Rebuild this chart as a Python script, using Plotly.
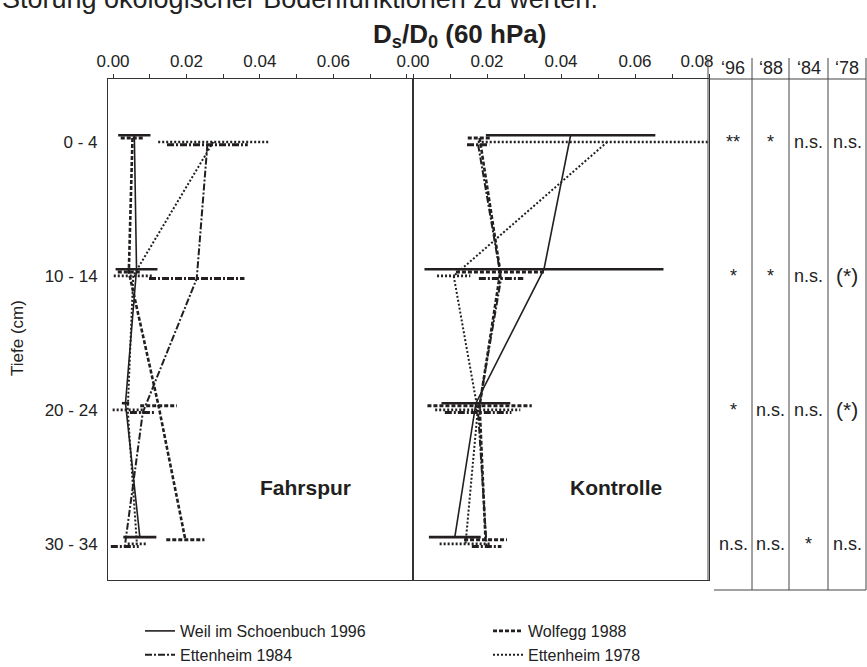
import plotly.graph_objects as go

# ---------------- data ----------------
depths = ["0 - 4", "10 - 14", "20 - 24", "30 - 34"]
series_names = ["Weil im Schoenbuch 1996", "Wolfegg 1988", "Ettenheim 1984", "Ettenheim 1978"]

# Fahrspur (left panel)  Ds/D0 means and error half-widths
fahr_1996 = [0.0058, 0.0064, 0.0034, 0.0073]
fahr_1996_err = [0.0044, 0.0057, 0.0010, 0.0045]
fahr_1988 = [0.0053, 0.0043, 0.0124, 0.0197]
fahr_1988_err = [0.0032, 0.0030, 0.0050, 0.0052]
fahr_1984 = [0.0257, 0.0228, 0.0081, 0.0032]
fahr_1984_err = [0.0110, 0.0130, 0.0035, 0.0038]
fahr_1978 = [0.0273, 0.0055, 0.0040, 0.0065]
fahr_1978_err = [0.0150, 0.0053, 0.0041, 0.0025]

# Kontrolle (right panel)
kon_1996 = [0.0426, 0.0354, 0.0170, 0.0113]
kon_1996_err = [0.0229, 0.0323, 0.0093, 0.0070]
kon_1988 = [0.0180, 0.0236, 0.0180, 0.0196]
kon_1988_err = [0.0032, 0.0120, 0.0141, 0.0058]
kon_1984 = [0.0176, 0.0238, 0.0176, 0.0199]
kon_1984_err = [0.0030, 0.0060, 0.0090, 0.0040]
kon_1978 = [0.0525, 0.0110, 0.0175, 0.0142]
kon_1978_err = [0.0350, 0.0045, 0.0115, 0.0070]

# significance table
sig_columns = ["\u201896", "\u201888", "\u201884", "\u201878"]
sig_1996 = ["**", "*", "*", "n.s."]
sig_1988 = ["*", "*", "n.s.", "n.s."]
sig_1984 = ["n.s.", "n.s.", "n.s.", "*"]
sig_1978 = ["n.s.", "(*)", "(*)", "n.s."]

x_tickvals = [0.00, 0.01, 0.02, 0.03, 0.04, 0.05, 0.06, 0.07, 0.08]
left_ticktext = ["0.00", "", "0.02", "", "0.04", "", "0.06", "", ""]
right_ticktext = ["0.00", "", "0.02", "", "0.04", "", "0.06", "", ""]
last_tickval = [0.08]
last_ticktext = ["0.08"]

# ---------------- styles ----------------
W, H = 867, 667
INK = "#231f20"
TXT = "#222"
FONT = "Liberation Sans, Arial, sans-serif"

def px(x):
    return x / W

def py(y):
    return 1 - y / H

styles = {
    "Weil im Schoenbuch 1996": dict(dash="solid", width=1.6, ewidth=2.6, off=-0.05, legend="legend"),
    "Wolfegg 1988": dict(dash="4px,2px", width=2.6, ewidth=3.0, off=-0.03, legend="legend2"),
    "Ettenheim 1984": dict(dash="7px,2px,2px,2px", width=2.0, ewidth=3.0, off=0.02, legend="legend"),
    "Ettenheim 1978": dict(dash="2px,2px", width=2.0, ewidth=2.6, off=0.0, legend="legend2"),
}

panels = [
    ("x", "y", [fahr_1996, fahr_1988, fahr_1984, fahr_1978],
     [fahr_1996_err, fahr_1988_err, fahr_1984_err, fahr_1978_err]),
    ("x2", "y2", [kon_1996, kon_1988, kon_1984, kon_1978],
     [kon_1996_err, kon_1988_err, kon_1984_err, kon_1978_err]),
]

fig = go.Figure()
for pi, (xa, ya, vals, errs) in enumerate(panels):
    for name, v, e in zip(series_names, vals, errs):
        st = styles[name]
        ys = [i + st["off"] for i in range(len(depths))]
        fig.add_trace(go.Scatter(
            x=v, y=ys, mode="lines", name=name, xaxis=xa, yaxis=ya,
            line=dict(color=INK, width=st["width"], dash=st["dash"]),
            showlegend=(pi == 0), legend=st["legend"], hoverinfo="skip"))
        ex, ey = [], []
        for vi, ei, yi in zip(v, e, ys):
            ex += [vi - ei, vi + ei, None]
            ey += [yi, yi, None]
        fig.add_trace(go.Scatter(
            x=ex, y=ey, mode="lines", xaxis=xa, yaxis=ya, showlegend=False,
            line=dict(color=INK, width=st["ewidth"], dash=st["dash"]), hoverinfo="skip"))

# empty trace that only makes the label-only overlay axis (x3) exist
fig.add_trace(go.Scatter(x=last_tickval, y=[None], mode="lines", xaxis="x3", yaxis="y2",
                         showlegend=False, hoverinfo="skip"))

y_dom = [py(580), py(79)]
y_rng = [3.27, -0.47]
axis_common = dict(showline=True, linecolor="#333", linewidth=1, mirror=True,
                   showgrid=False, zeroline=False, automargin=False)
tickf = dict(size=17, color=TXT, family=FONT)
legf = dict(size=16, color=TXT, family=FONT)

fig.update_layout(
    template="none",
    width=W, height=H,
    margin=dict(l=0, r=0, t=0, b=0, pad=0, autoexpand=False),
    paper_bgcolor="white", plot_bgcolor="white",
    font=dict(family=FONT, color=INK, size=17),
    xaxis=dict(domain=[px(108), px(413)], range=[-0.00137, 0.0817], side="top", anchor="y",
               tickvals=x_tickvals, ticktext=left_ticktext, ticks="outside", ticklen=4,
               tickcolor="#333", tickfont=tickf, **axis_common),
    yaxis=dict(domain=y_dom, range=y_rng, anchor="x", tickvals=[0, 1, 2, 3], ticktext=depths,
               ticks="", ticklabelstandoff=6, tickfont=tickf, **axis_common),
    xaxis2=dict(domain=[px(413), px(709)], range=[0, 0.08], side="top", anchor="y2",
                tickvals=x_tickvals, ticktext=right_ticktext, ticks="outside", ticklen=4,
                tickcolor="#333", tickfont=tickf, **axis_common),
    # label-only axis for the last tick, nudged left to clear the table as in the original
    xaxis3=dict(overlaying="x2", side="top", anchor="y2", range=[0, 0.08],
                tickvals=last_tickval, ticktext=last_ticktext, ticks="outside", ticklen=4,
                tickcolor="rgba(0,0,0,0)", ticklabelshift=-12,
                tickfont=tickf, showline=False, showgrid=False, zeroline=False, automargin=False),
    yaxis2=dict(domain=y_dom, range=y_rng, anchor="x2", showticklabels=False, ticks="",
                **axis_common),
    legend=dict(x=px(140), y=py(614), xanchor="left", yanchor="top", orientation="v",
                font=legf, bgcolor="rgba(0,0,0,0)", tracegroupgap=0, borderwidth=0),
    legend2=dict(x=px(488), y=py(614), xanchor="left", yanchor="top", orientation="v",
                 font=legf, bgcolor="rgba(0,0,0,0)", tracegroupgap=0, borderwidth=0),
)

def note(text, x, y, size, xref="paper", yref="paper", bold=False, **kw):
    fig.add_annotation(text=f"<b>{text}</b>" if bold else text, x=x, y=y, xref=xref, yref=yref,
                       showarrow=False, xanchor=kw.pop("xanchor", "center"),
                       yanchor=kw.pop("yanchor", "middle"),
                       font=dict(size=size, color=kw.pop("color", TXT), family=FONT), **kw)

# y axis title
note("Tiefe (cm)", px(17), py(338), 17, textangle=-90)
# main title
note("D<sub>s</sub>/D<sub>0</sub> (60 hPa)", px(459), py(36), 26, bold=True, color=INK)
# cut-off caption line at the very top
note("Störung ökologischer Bodenfunktionen zu werten.", 0, py(-1), 27, xanchor="left")
# panel labels
note("Fahrspur", 0.0524, 2.58, 21, xref="x", yref="y", bold=True, color=INK)
note("Kontrolle", 0.0549, 2.58, 21, xref="x2", yref="y2", bold=True, color=INK)

# significance table
col_edges = [708, 752, 789, 828, 866]
col_centers = [733, 770.5, 808.5, 847]
line_style = dict(color="#444", width=1)
for i, cx in enumerate(col_edges):
    fig.add_shape(type="line", xref="paper", yref="paper", x0=px(cx), x1=px(cx),
                  y0=py(58), y1=py(580 if i == 0 else 590), line=line_style)
fig.add_shape(type="line", xref="paper", yref="paper", x0=px(709), x1=px(866), y0=py(79), y1=py(79),
              line=line_style)
fig.add_shape(type="line", xref="paper", yref="paper", x0=px(714), x1=px(866), y0=py(590), y1=py(590),
              line=line_style)
for cx, lab in zip(col_centers, sig_columns):
    note(lab, px(cx), py(68), 18)
for cx, col in zip(col_centers, [sig_1996, sig_1988, sig_1984, sig_1978]):
    for r, t in enumerate(col):
        note(t, px(cx), r, 21 if t == "(*)" else 18, yref="y")

fig.write_html("out.html")
